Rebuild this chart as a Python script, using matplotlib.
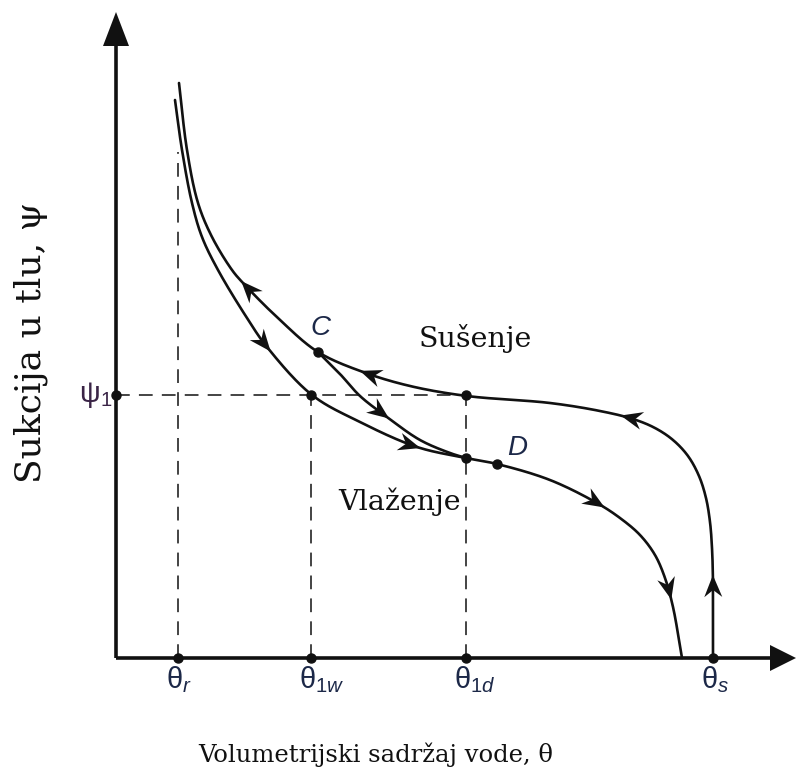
import numpy as np
import matplotlib.pyplot as plt

plt.rcParams['mathtext.fontset'] = 'custom'
plt.rcParams['mathtext.rm'] = 'Liberation Sans'
plt.rcParams['mathtext.it'] = 'Liberation Sans:italic'

# schematic soil-water retention curve with hysteresis (theta, psi in drawing units)
theta_r, theta_1w, theta_1d, theta_s = 62, 195, 350, 597
psi_1 = 263

# main drying curve, from saturation up to residual
dry_theta = [597, 597, 596, 594, 590, 583, 572, 557, 539, 517, 484, 434, 351, 294, 247, 202,
             164, 127, 116, 96, 82, 71, 63]
dry_psi = [0, 75, 110, 136, 160, 182, 202, 218, 230, 239, 247, 255, 262, 272, 286, 306,
           338, 375, 388, 421, 455, 508, 575]

# main wetting curve, from residual down to saturation
wet_theta = [59, 66, 76, 86, 102, 131, 151, 196, 244, 301, 350, 381, 434, 481,
             504, 524, 539, 549, 557, 566]
wet_psi = [558, 508, 455, 421, 388, 340, 311, 263, 236, 211, 200, 194, 178, 155,
           140, 123, 103, 80, 51, 0]

# scanning wetting curve C -> D
scan_theta = [202, 224, 244, 271, 304, 334, 350]
scan_psi = [306, 284, 262, 241, 218, 205, 200]

point_C = (202, 306)
point_D = (381, 194)

# where the direction arrows sit (approx. tip positions)
dry_arrows = [(597, 83), (504, 240), (244, 285), (126, 378)]
wet_arrows = [(155, 306), (304, 208), (489, 151), (554, 58)]
scan_arrows = [(274, 240)]

ink = '#111111'
navy = '#1c2848'


def smooth(xs, ys, n=30, alpha=0.5):
    # centripetal Catmull-Rom through the points, only for drawing
    p = np.column_stack([xs, ys]).astype(float)
    p = np.vstack([2 * p[0] - p[1], p, 2 * p[-1] - p[-2]])
    out = []
    for i in range(1, len(p) - 2):
        P0, P1, P2, P3 = p[i - 1], p[i], p[i + 1], p[i + 2]
        t0 = 0.0
        t1 = t0 + np.hypot(*(P1 - P0)) ** alpha
        t2 = t1 + np.hypot(*(P2 - P1)) ** alpha
        t3 = t2 + np.hypot(*(P3 - P2)) ** alpha
        t = np.linspace(t1, t2, n, endpoint=False)[:, None]
        A1 = (t1 - t) / (t1 - t0) * P0 + (t - t0) / (t1 - t0) * P1
        A2 = (t2 - t) / (t2 - t1) * P1 + (t - t1) / (t2 - t1) * P2
        A3 = (t3 - t) / (t3 - t2) * P2 + (t - t2) / (t3 - t2) * P3
        B1 = (t2 - t) / (t2 - t0) * A1 + (t - t0) / (t2 - t0) * A2
        B2 = (t3 - t) / (t3 - t1) * A2 + (t - t1) / (t3 - t1) * A3
        out.append((t2 - t) / (t2 - t1) * B1 + (t - t1) / (t2 - t1) * B2)
    out.append(p[-2][None, :])
    return np.vstack(out)


def arrowhead(ax, tip, direction, L=22, W=18):
    d = np.asarray(direction, float)
    d /= np.hypot(*d)
    nrm = np.array([-d[1], d[0]])
    tip = np.asarray(tip, float)
    pts = [tip, tip - L * d + W / 2 * nrm, tip - 0.68 * L * d, tip - L * d - W / 2 * nrm]
    ax.fill(*zip(*pts), color=ink, lw=0, zorder=5)


def curve_arrows(ax, c, targets):
    for t in targets:
        i = np.argmin(np.hypot(c[:, 0] - t[0], c[:, 1] - t[1]))
        i = min(max(i, 3), len(c) - 4)
        arrowhead(ax, c[i], c[i + 3] - c[i - 3])


fig = plt.figure(figsize=(7.96, 7.78), dpi=100)
ax = fig.add_axes([0, 0, 1, 1])
ax.set_xlim(-116, 680)
ax.set_ylim(-120, 658)
ax.axis('off')

# axes with arrows
ax.plot([0, 0], [0, 615], color=ink, lw=2.6, solid_capstyle='butt')
ax.plot([0, 656], [0, 0], color=ink, lw=2.6, solid_capstyle='butt')
ax.fill([-13, 13, 0], [612, 612, 646], color=ink, lw=0)
ax.fill([654, 654, 680], [-13, 13, 0], color=ink, lw=0)

# dashed guides
dash = dict(color=ink, lw=1.1, dashes=(9, 6))
ax.plot([theta_r, theta_r], [0, 506], **dash)
ax.plot([0, theta_1d], [psi_1, psi_1], **dash)
ax.plot([theta_1w, theta_1w], [0, psi_1], **dash)
ax.plot([theta_1d, theta_1d], [0, psi_1], **dash)

dry = smooth(dry_theta, dry_psi)
wet = smooth(wet_theta, wet_psi)
scan = smooth(scan_theta, scan_psi)
for c in (dry, wet, scan):
    ax.plot(c[:, 0], c[:, 1], color=ink, lw=1.9, solid_capstyle='round')
curve_arrows(ax, dry, dry_arrows)
curve_arrows(ax, wet, wet_arrows)
curve_arrows(ax, scan, scan_arrows)

# dots
dots_x = [theta_r, theta_1w, theta_1d, theta_s, 0, theta_1w, theta_1d, theta_1d, point_C[0], point_D[0]]
dots_y = [0, 0, 0, 0, psi_1, psi_1, psi_1, 200, point_C[1], point_D[1]]
ax.plot(dots_x, dots_y, 'o', color=ink, ms=6.5, zorder=6)

# tick labels
ticks = [(theta_r, 'r'), (theta_1w, '1w'), (theta_1d, '1d'), (theta_s, 's')]
for x, sub in ticks:
    ax.text(x - 12, -22, r'$\mathrm{\theta}_{\mathit{' + sub + '}}$', fontsize=21,
            color=navy, ha='left', va='center')
ax.text(-4, psi_1, r'$\mathrm{\psi}_{\mathrm{1}}$', fontsize=21, color='#3a2446',
        ha='right', va='center')

ax.text(point_C[0] + 2, point_C[1] + 24, 'C', fontsize=20, style='italic',
        family='Liberation Sans', color=navy, ha='center', va='center')
ax.text(point_D[0] + 20, point_D[1] + 16, 'D', fontsize=20, style='italic',
        family='Liberation Sans', color=navy, ha='center', va='center')

serif = 'DejaVu Serif'
ax.text(359, 320, 'Sušenje', fontsize=20.5, family=serif, color=ink, ha='center', va='center')
ax.text(284, 156, 'Vlaženje', fontsize=20.5, family=serif, color=ink, ha='center', va='center')
ax.text(260, -97, 'Volumetrijski sadržaj vode, θ', fontsize=17.5, family=serif,
        color=ink, ha='center', va='center')
ax.text(-85, 316, 'Sukcija u tlu, ψ', fontsize=26, family=serif, color=ink,
        ha='center', va='center', rotation=90)

fig.savefig('out.png', dpi=100)
